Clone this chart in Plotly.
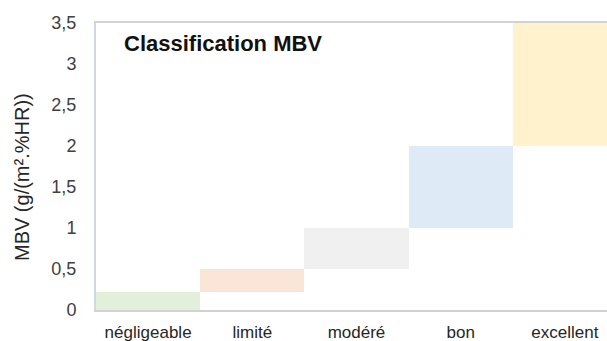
import plotly.graph_objects as go

# MBV classes (g/(m².%HR)): lower and upper bound of each class
categories = ["négligeable", "limité", "modéré", "bon", "excellent"]
lower = [0.0, 0.22, 0.5, 1.0, 2.0]
upper = [0.22, 0.5, 1.0, 2.0, 3.5]
colors = ["#E2EFDA", "#FBE5D6", "#F0F0F0", "#DEEBF7", "#FFF2CC"]

y_ticks = [0, 0.5, 1, 1.5, 2, 2.5, 3, 3.5]

font_family = "Arial, Liberation Sans, sans-serif"

fig = go.Figure(
    go.Bar(
        x=list(range(len(categories))),
        y=[u - l for l, u in zip(lower, upper)],
        base=lower,
        marker=dict(color=colors, line=dict(width=0)),
        width=1,
        hoverinfo="skip",
    )
)

fig.update_layout(
    width=607,
    height=341,
    margin=dict(l=96, r=0, t=23, b=31),
    paper_bgcolor="white",
    plot_bgcolor="white",
    separators=", ",
    showlegend=False,
    bargap=0,
    font=dict(family=font_family, color="#404040"),
    xaxis=dict(
        range=[-0.5, 4.404],
        tickmode="array",
        tickvals=list(range(len(categories))),
        ticktext=categories,
        tickfont=dict(size=17, color="#262626"),
        showgrid=False,
        zeroline=False,
        showline=True,
        mirror=True,
        linecolor="#D2D2D2",
        linewidth=2,
        layer="below traces",
        ticks="",
        ticklabelstandoff=6,
    ),
    yaxis=dict(
        range=[0, 3.5],
        tickmode="array",
        tickvals=y_ticks,
        tickformat="~g",
        tickfont=dict(size=18, color="#404040"),
        showgrid=False,
        zeroline=False,
        showline=True,
        linecolor="#D0D8E4",
        linewidth=2,
        ticks="",
        ticklabelstandoff=14,
    ),
    annotations=[
        dict(
            text="<b>Classification MBV</b>",
            xref="paper", yref="paper",
            x=0.051, y=0.927,
            xanchor="left", yanchor="middle",
            showarrow=False,
            font=dict(size=22, color="#111111", family=font_family),
        ),
        dict(
            text="MBV (g/(m².%HR))",
            xref="paper", yref="paper",
            x=-0.145, y=0.463,
            xanchor="center", yanchor="middle",
            textangle=-90,
            showarrow=False,
            font=dict(size=20, color="#262626", family=font_family),
        ),
    ],
)

fig.write_html("out.html")
